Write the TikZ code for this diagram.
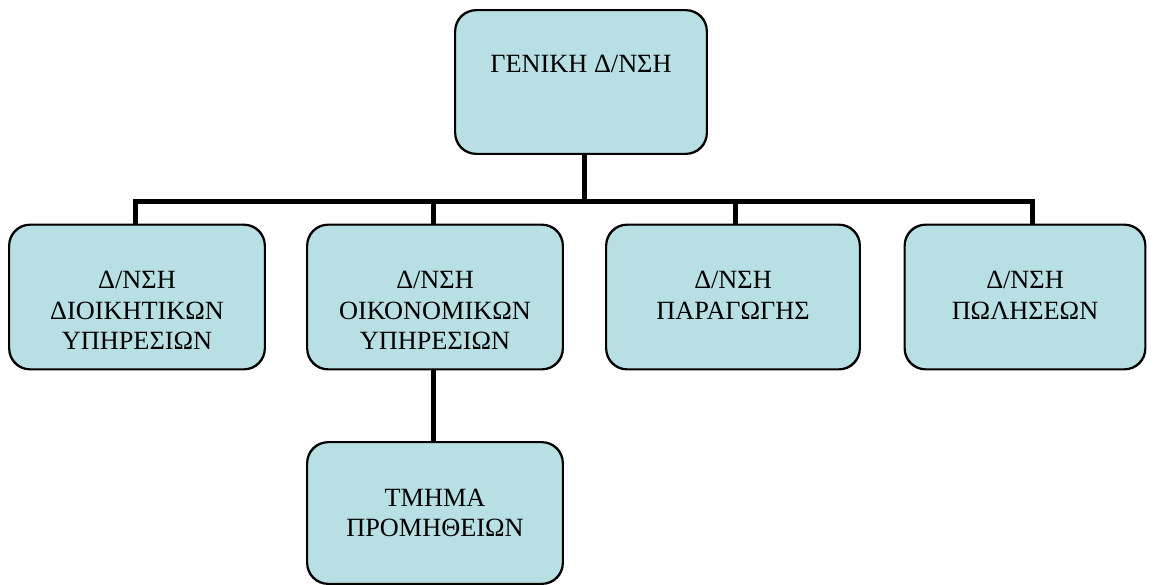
\documentclass[tikz,border=0pt]{standalone}
\usepackage{fontspec}
\setmainfont{Liberation Serif}
\usetikzlibrary{calc}
\begin{document}
\begin{tikzpicture}[x=1pt,y=-1pt,
  box/.style={draw=black,line width=1.4pt,fill=boxfill,rounded corners=21pt,inner sep=0pt},
  lbl/.style={anchor=north,inner sep=0pt,align=center,font=\fontsize{26.3}{30.5}\selectfont},
  conn/.style={line width=5pt,draw=black}]
\definecolor{boxfill}{RGB}{184,223,227}
\fill[white] (0,0) rectangle (1155,584);
\useasboundingbox (0,0) rectangle (1155,584);
% boxes
\node[box,minimum width=251pt,minimum height=143pt] (g) at (581,82) {};
\node[box,minimum width=255pt,minimum height=144pt] (b1) at (137,297) {};
\node[box,minimum width=255pt,minimum height=144pt] (b2) at (435,297) {};
\node[box,minimum width=253pt,minimum height=144pt] (b3) at (733,297) {};
\node[box,minimum width=240pt,minimum height=144pt] (b4) at (1025,297) {};
\node[box,minimum width=255pt,minimum height=141pt] (b5) at (435,513) {};
% connectors
\coordinate (j) at (584,201);
\coordinate (j1) at (135,201);
\coordinate (j2) at (433,201);
\coordinate (j3) at (735,201);
\coordinate (j4) at (1032,201);
\draw[conn] (g.south -| j) -- (j);
\draw[conn] (b1.north -| j1) -- (j1) -- (j4) -- (b4.north -| j4);
\draw[conn] (j2) -- (b2.north -| j2);
\draw[conn] (j3) -- (b3.north -| j3);
\draw[conn] (b2.south -| j2) -- (b5.north -| j2);
% redraw box borders over connector ends
\foreach \n in {g,b1,b2,b3,b4,b5}{\draw[line width=1.4pt,rounded corners=21pt] (\n.north west) rectangle (\n.south east);}
% labels
\node[lbl] (tg) at ($(g.north)+(0,45)$) {ΓΕΝΙΚΗ Δ/ΝΣΗ};
\node[lbl] (t1) at ($(b1.north)+(0,47)$) {Δ/ΝΣΗ\\ΔΙΟΙΚΗΤΙΚΩΝ\\ΥΠΗΡΕΣΙΩΝ};
\node[lbl] (t2) at ($(b2.north)+(0,47)$) {Δ/ΝΣΗ\\ΟΙΚΟΝΟΜΙΚΩΝ\\ΥΠΗΡΕΣΙΩΝ};
\node[lbl] (t3) at ($(b3.north)+(0,47)$) {Δ/ΝΣΗ\\ΠΑΡΑΓΩΓΗΣ};
\node[lbl] (t4) at ($(b4.north)+(0,47)$) {Δ/ΝΣΗ\\ΠΩΛΗΣΕΩΝ};
\node[lbl] (t5) at ($(b5.north)+(0,47)$) {ΤΜΗΜΑ\\ΠΡΟΜΗΘΕΙΩΝ};
\end{tikzpicture}
\end{document}
